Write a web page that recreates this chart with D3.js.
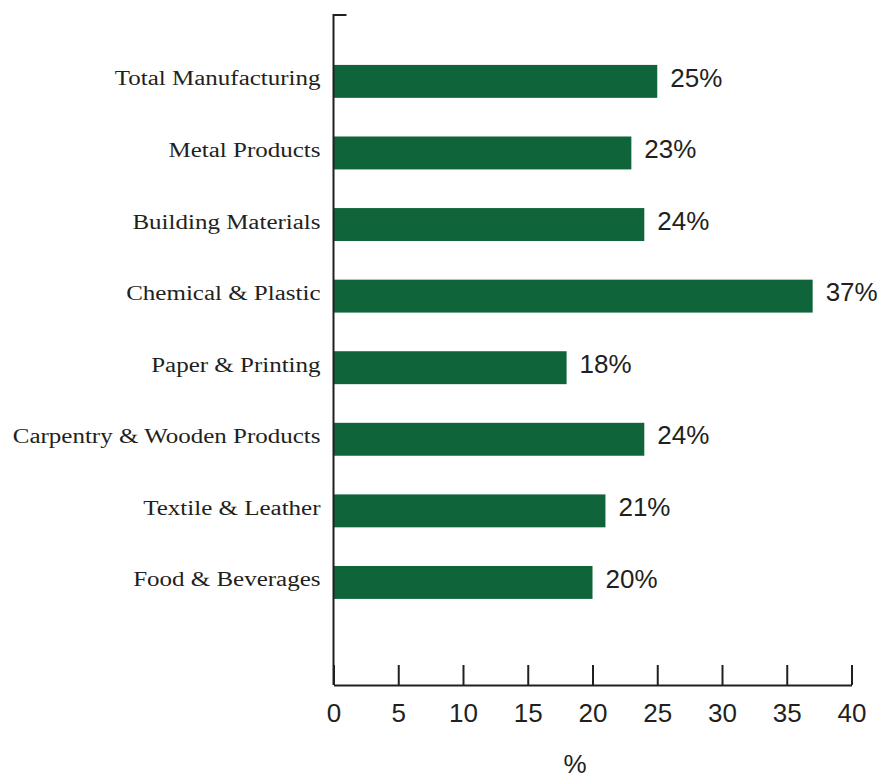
<!DOCTYPE html>
<html>
<head>
<meta charset="utf-8">
<script src="https://cdn.jsdelivr.net/npm/d3@7"></script>
<style>
  html, body { margin: 0; padding: 0; background: #ffffff; }
  svg { display: block; }
</style>
</head>
<body>
<svg id="chart" width="879" height="778"></svg>
<script>
// Share of firms by manufacturing sector (%)
const categories = [
  "Total Manufacturing",
  "Metal Products",
  "Building Materials",
  "Chemical & Plastic",
  "Paper & Printing",
  "Carpentry & Wooden Products",
  "Textile & Leather",
  "Food & Beverages"
];
const values = [25, 23, 24, 37, 18, 24, 21, 20];
const xTicks = [0, 5, 10, 15, 20, 25, 30, 35, 40];
const xTitle = "%";

const ink = "#231f20";
const barColor = "#0f6439";

const svg = d3.select("#chart");
const plotLeft = 333.5, plotRight = 851.5, plotTop = 15, plotBottom = 685;

const x = d3.scaleLinear().domain([0, 40]).range([plotLeft, plotRight]);
const y = d3.scaleBand()
  .domain(categories)
  .range([plotTop, plotBottom])
  .paddingInner(0.54)
  .paddingOuter(0.95)
  .align(0.367);

// Bars
svg.append("g")
  .selectAll("rect")
  .data(values)
  .join("rect")
  .attr("x", x(0))
  .attr("y", (d, i) => y(categories[i]))
  .attr("width", d => x(d) - x(0))
  .attr("height", y.bandwidth())
  .attr("fill", barColor);

// Value labels
svg.append("g")
  .selectAll("text")
  .data(values)
  .join("text")
  .attr("x", d => x(d) + 13)
  .attr("y", (d, i) => y(categories[i]) + y.bandwidth() / 2)
  .attr("dy", "0.2em")
  .attr("font-family", "'Liberation Sans', Arial, sans-serif")
  .attr("font-size", 26)
  .attr("fill", ink)
  .text(d => d + "%");

// Category axis
const sx = 1.25;
const yAxis = svg.append("g")
  .attr("transform", `translate(${plotLeft},0)`)
  .call(d3.axisLeft(y).tickSize(0).tickPadding(13));
yAxis.select(".domain").remove();
yAxis.selectAll("text")
  .attr("font-family", "'Liberation Serif', 'Times New Roman', serif")
  .attr("font-size", 20)
  .attr("fill", ink)
  .attr("dy", "0.2em")
  .attr("x", -13 / sx)
  .attr("transform", `scale(${sx},1)`);

// Vertical axis line with the small top tick
svg.append("path")
  .attr("d", `M${plotLeft + 13},${plotTop}H${plotLeft}V${plotBottom}`)
  .attr("fill", "none")
  .attr("stroke", ink)
  .attr("stroke-width", 2);

// Value axis
const xAxis = svg.append("g")
  .attr("transform", `translate(0,${plotBottom})`)
  .call(d3.axisBottom(x).tickValues(xTicks).tickSizeInner(-20).tickSizeOuter(0).tickPadding(18.5));
xAxis.select(".domain").attr("stroke", ink).attr("stroke-width", 2);
xAxis.selectAll(".tick line").attr("stroke", ink).attr("stroke-width", 2);
xAxis.selectAll(".tick text")
  .attr("font-family", "'Liberation Sans', Arial, sans-serif")
  .attr("font-size", 26)
  .attr("fill", ink);

// Axis title
svg.append("text")
  .attr("x", 575)
  .attr("y", 773)
  .attr("text-anchor", "middle")
  .attr("font-family", "'Liberation Sans', Arial, sans-serif")
  .attr("font-size", 26)
  .attr("fill", ink)
  .text(xTitle);
</script>
</body>
</html>
